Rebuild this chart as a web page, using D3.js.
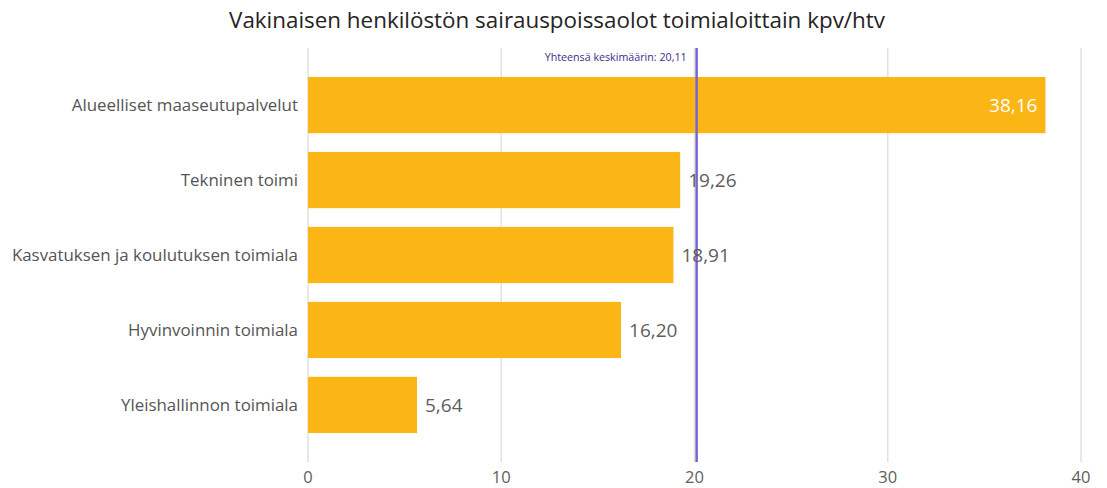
<!DOCTYPE html>
<html>
<head>
<meta charset="utf-8">
<script src="https://cdn.jsdelivr.net/npm/d3@7"></script>
<style>
  html, body { margin: 0; padding: 0; background: #fff; }
  svg { display: block; font-family: "Open Sans", "Noto Sans", sans-serif; }
</style>
</head>
<body>
<svg id="chart" width="1107" height="488"></svg>
<script>
// Sickness absence days per person-year by sector
const categories = [
  "Alueelliset maaseutupalvelut",
  "Tekninen toimi",
  "Kasvatuksen ja koulutuksen toimiala",
  "Hyvinvoinnin toimiala",
  "Yleishallinnon toimiala"
];
const values = [38.16, 19.26, 18.91, 16.20, 5.64];
const averageValue = 20.11;
const averageLabel = "Yhteensä keskimäärin: 20,11";
const xTicks = [0, 10, 20, 30, 40];
const title = "Vakinaisen henkilöstön sairauspoissaolot toimialoittain kpv/htv";

const fmt = v => v.toFixed(2).replace(".", ",");

const svg = d3.select("#chart");

const x = d3.scaleLinear().domain([0, 40]).range([308, 1081]);
const y = d3.scaleBand().domain(categories).range([67, 443])
  .paddingInner(0.25).paddingOuter(0.133);

const gridTop = 48, gridBottom = 462;

// title
svg.append("text")
  .attr("x", 557).attr("y", 28)
  .attr("text-anchor", "middle")
  .attr("font-size", 22.4)
  .attr("fill", "#252423")
  .text(title);

// vertical gridlines
svg.append("g").selectAll("line").data(xTicks).join("line")
  .attr("x1", d => x(d)).attr("x2", d => x(d))
  .attr("y1", gridTop).attr("y2", gridBottom)
  .attr("stroke", "#e1e1e1").attr("stroke-width", 1.5);

// x tick labels
svg.append("g").selectAll("text").data(xTicks).join("text")
  .attr("x", d => x(d)).attr("y", 483)
  .attr("text-anchor", "middle")
  .attr("font-size", 16.5)
  .attr("fill", "#605e5c")
  .text(d => d);

// bars
svg.append("g").selectAll("rect").data(values).join("rect")
  .attr("x", x(0))
  .attr("y", (d, i) => y(categories[i]))
  .attr("width", d => x(d) - x(0))
  .attr("height", y.bandwidth())
  .attr("fill", "#fbb515");

// category labels
svg.append("g").selectAll("text").data(categories).join("text")
  .attr("x", 298)
  .attr("y", d => y(d) + y.bandwidth() / 2)
  .attr("dy", "0.35em")
  .attr("text-anchor", "end")
  .attr("font-size", 16.9)
  .attr("fill", "#555")
  .text(d => d);

// average reference line
svg.append("line")
  .attr("x1", x(averageValue)).attr("x2", x(averageValue))
  .attr("y1", gridTop).attr("y2", gridBottom)
  .attr("stroke", "#7566d0").attr("stroke-width", 2.5);

svg.append("text")
  .attr("x", x(averageValue) - 10).attr("y", 61)
  .attr("text-anchor", "end")
  .attr("font-size", 10.7)
  .attr("fill", "#3d2d8c")
  .text(averageLabel);

// value labels: inside the bar when it is long, otherwise just past its end
svg.append("g").selectAll("text").data(values).join("text")
  .attr("x", d => d > 30 ? x(d) - 8 : x(d) + 8)
  .attr("y", (d, i) => y(categories[i]) + y.bandwidth() / 2)
  .attr("dy", "0.38em")
  .attr("text-anchor", d => d > 30 ? "end" : "start")
  .attr("font-size", 19)
  .attr("fill", d => d > 30 ? "#ffffff" : "#605e5c")
  .text(d => fmt(d));
</script>
</body>
</html>
